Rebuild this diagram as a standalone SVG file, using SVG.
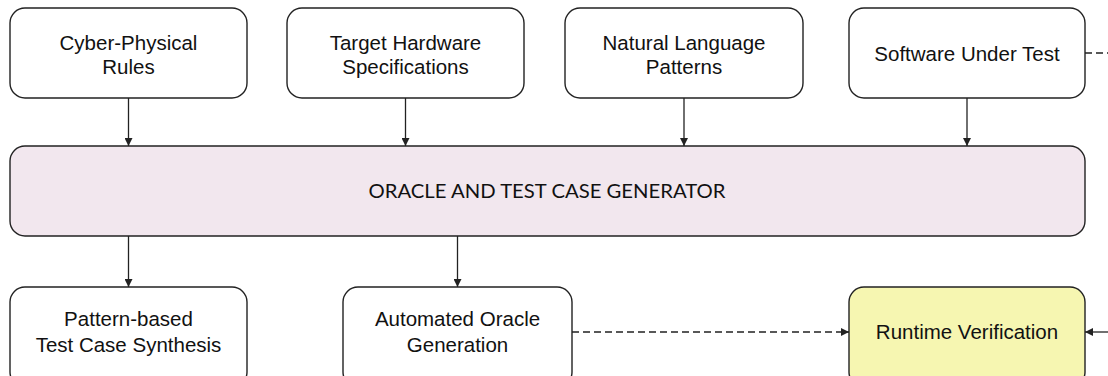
<svg xmlns="http://www.w3.org/2000/svg" width="1108" height="376" viewBox="0 0 1108 376">
<style>
.box{fill:#ffffff;stroke:#222;stroke-width:1.4}
.pink{fill:#f2e7ee}
.yellow{fill:#f6f6b1}
.t{font-family:"Liberation Sans",Arial,sans-serif;font-size:20.5px;fill:#111;text-anchor:middle}
.tc{font-family:Lato,"Open Sans",sans-serif;font-size:20px;fill:#111;text-anchor:middle}
.c{stroke:#222;stroke-width:1.3;fill:none}
.d{stroke-dasharray:7 4}
</style>
<defs>
<marker id="ah" viewBox="0 0 10 10" refX="10" refY="5" markerWidth="8" markerHeight="8" markerUnits="userSpaceOnUse" orient="auto">
<path d="M0,0 L10,5 L0,10 z" fill="#222"/>
</marker>
</defs>
<g id="n-cyber"><rect class="box" x="10" y="8" width="237" height="90" rx="15"/><text class="t" x="128.5" y="50">Cyber-Physical</text><text class="t" x="128.5" y="74">Rules</text></g>
<g id="n-hw"><rect class="box" x="287" y="8" width="237" height="90" rx="15"/><text class="t" x="405.5" y="50">Target Hardware</text><text class="t" x="405.5" y="74">Specifications</text></g>
<g id="n-nl"><rect class="box" x="565" y="8" width="238" height="90" rx="15"/><text class="t" x="684" y="50">Natural Language</text><text class="t" x="684" y="74">Patterns</text></g>
<g id="n-sut"><rect class="box" x="849" y="8" width="236" height="90" rx="15"/><text class="t" x="967" y="61">Software Under Test</text></g>
<g id="n-gen"><rect class="box pink" x="10" y="146" width="1075" height="90" rx="15"/><text class="tc" x="547" y="198" textLength="357" lengthAdjust="spacingAndGlyphs">ORACLE AND TEST CASE GENERATOR</text></g>
<g id="n-synth"><rect class="box" x="10" y="287" width="237" height="100" rx="15"/><text class="t" x="128.5" y="326">Pattern-based</text><text class="t" x="128.5" y="352">Test Case Synthesis</text></g>
<g id="n-oracle"><rect class="box" x="343" y="287" width="229" height="100" rx="15"/><text class="t" x="457.5" y="326">Automated Oracle</text><text class="t" x="457.5" y="352">Generation</text></g>
<g id="n-rv"><rect class="box yellow" x="849" y="287" width="236" height="100" rx="15"/><text class="t" x="967" y="339">Runtime Verification</text></g>
<g id="connectors">
<line class="c" x1="128.5" y1="98" x2="128.5" y2="146" marker-end="url(#ah)"/>
<line class="c" x1="405.5" y1="98" x2="405.5" y2="146" marker-end="url(#ah)"/>
<line class="c" x1="684" y1="98" x2="684" y2="146" marker-end="url(#ah)"/>
<line class="c" x1="967" y1="98" x2="967" y2="146" marker-end="url(#ah)"/>
<line class="c" x1="128.5" y1="236" x2="128.5" y2="287" marker-end="url(#ah)"/>
<line class="c" x1="457.5" y1="236" x2="457.5" y2="287" marker-end="url(#ah)"/>
<line class="c d" x1="572" y1="332" x2="849" y2="332" marker-end="url(#ah)"/>
<line class="c d" x1="1085" y1="53" x2="1108" y2="53"/>
<line class="c" x1="1108" y1="332" x2="1085" y2="332" marker-end="url(#ah)"/>
</g>
</svg>
